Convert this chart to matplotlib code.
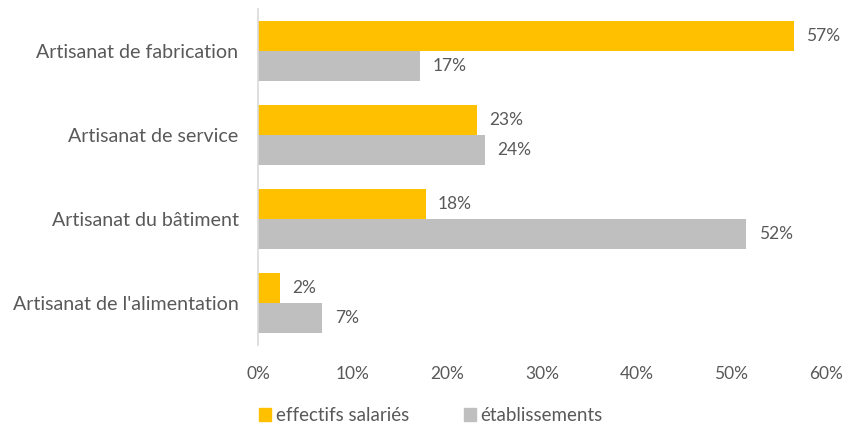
import matplotlib.pyplot as plt
from matplotlib.patches import Patch

categories = ["Artisanat de l'alimentation", "Artisanat du bâtiment", "Artisanat de service", "Artisanat de fabrication"]
effectifs = [2.3, 17.7, 23.1, 56.6]
etablissements = [6.8, 51.6, 24.0, 17.1]
xticks = [0, 10, 20, 30, 40, 50, 60]

ORANGE = '#FFC000'
GREY = '#BFBFBF'
TXT = '#595959'

plt.rcParams['font.family'] = ['Lato', 'DejaVu Sans']

fig = plt.figure(figsize=(8.45, 4.25), dpi=100)
ax = fig.add_axes([258/845, 1-345/425, (826-258)/845, 336/425])

h = 0.36
y = list(range(len(categories)))
b1 = ax.barh([v + h/2 for v in y], effectifs, height=h, color=ORANGE)
b2 = ax.barh([v - h/2 for v in y], etablissements, height=h, color=GREY)

for bars, vals in ((b1, effectifs), (b2, etablissements)):
    for bar, v in zip(bars, vals):
        ax.annotate(f"{round(v):d}%", (bar.get_width(), bar.get_y() + bar.get_height()/2),
                    xytext=(9, 0), textcoords='offset points', va='center', ha='left',
                    fontsize=12.5, color=TXT)

ax.set_xlim(0, 60)
ax.set_ylim(-0.5, len(categories) - 0.5)
ax.set_xticks(xticks)
ax.set_xticklabels([f"{t}%" for t in xticks], fontsize=12.5, color=TXT)
ax.set_yticks(y)
ax.set_yticklabels(categories, fontsize=14.1, color=TXT)
ax.tick_params(axis='both', length=0)
ax.tick_params(axis='x', pad=15)
ax.tick_params(axis='y', pad=14)
for s in ('top', 'right', 'bottom'):
    ax.spines[s].set_visible(False)
ax.spines['left'].set_color('#D9D9D9')
ax.spines['left'].set_linewidth(1.2)

handles = [Patch(color=ORANGE, label='effectifs salariés'), Patch(color=GREY, label='établissements')]
leg = fig.legend(handles=handles, loc='lower center', bbox_to_anchor=(0.51, -0.038), ncol=2,
                 frameon=False, fontsize=13.5, handlelength=0.65, handleheight=0.65,
                 handletextpad=0.25, columnspacing=2.9)
for t in leg.get_texts():
    t.set_color(TXT)

fig.savefig('out.png', dpi=100)
